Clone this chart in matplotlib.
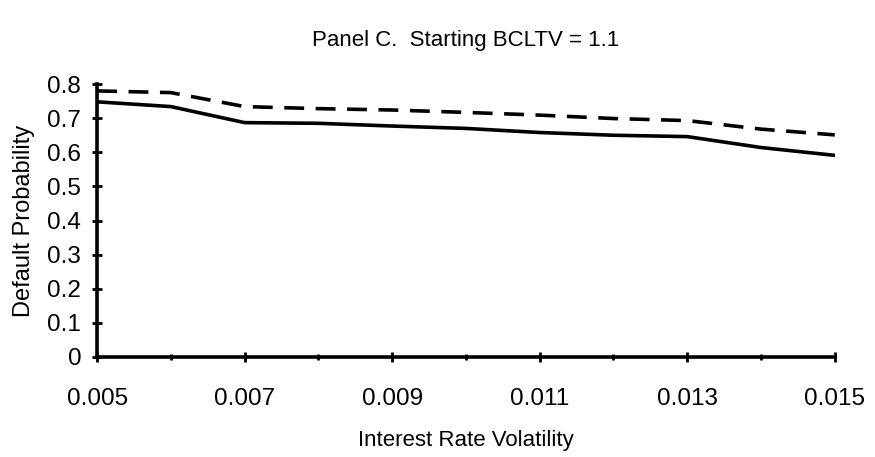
import numpy as np
import matplotlib.pyplot as plt
from matplotlib.ticker import MultipleLocator

plt.rcParams['font.family'] = ['Liberation Sans', 'DejaVu Sans']

# interest rate volatility (x) and default probabilities
volatility = [0.005, 0.006, 0.007, 0.008, 0.009, 0.010, 0.011, 0.012, 0.013, 0.014, 0.015]
prob_solid = [0.748, 0.734, 0.687, 0.685, 0.677, 0.670, 0.658, 0.650, 0.646, 0.614, 0.591]
prob_dashed = [0.780, 0.775, 0.734, 0.728, 0.724, 0.717, 0.709, 0.699, 0.693, 0.668, 0.651]
xtick_vals = [0.005, 0.007, 0.009, 0.011, 0.013, 0.015]
ytick_vals = [0, 0.1, 0.2, 0.3, 0.4, 0.5, 0.6, 0.7, 0.8]

fig = plt.figure(figsize=(8.75, 4.57), dpi=100)
ax = fig.add_axes([0.111, 0.219, 0.843, 0.597])

ax.plot(volatility, prob_dashed, color='black', lw=2.6, ls=(0, (5.5, 3.2)))
ax.plot(volatility, prob_solid, color='black', lw=2.6)

ax.set_xlim(0.005, 0.015)
ax.set_ylim(0, 0.8)
ax.set_xticks(xtick_vals)
ax.set_xticklabels([f"{v:.3f}" for v in xtick_vals])
ax.xaxis.set_minor_locator(MultipleLocator(0.001))
ax.set_yticks(ytick_vals)
ax.set_yticklabels(["0" if v == 0 else f"{v:.1f}" for v in ytick_vals])

for s in ['top', 'right']:
    ax.spines[s].set_visible(False)
for s in ['left', 'bottom']:
    ax.spines[s].set_linewidth(2.6)
    ax.spines[s].set_clip_on(False)

ax.tick_params(axis='both', which='major', direction='inout', length=7, width=2, labelsize=17.5)
ax.tick_params(axis='x', which='minor', direction='inout', length=5, width=2)
ax.tick_params(axis='x', which='major', pad=19)
ax.tick_params(axis='y', which='major', pad=8)

ax.set_xlabel("Interest Rate Volatility", fontsize=16, labelpad=14)
ax.set_ylabel("Default Probability", fontsize=17, labelpad=9)
fig.text(0.532, 0.912, "Panel C.  Starting BCLTV = 1.1", fontsize=16, ha='center', va='center')

fig.savefig("out.png", dpi=100)
